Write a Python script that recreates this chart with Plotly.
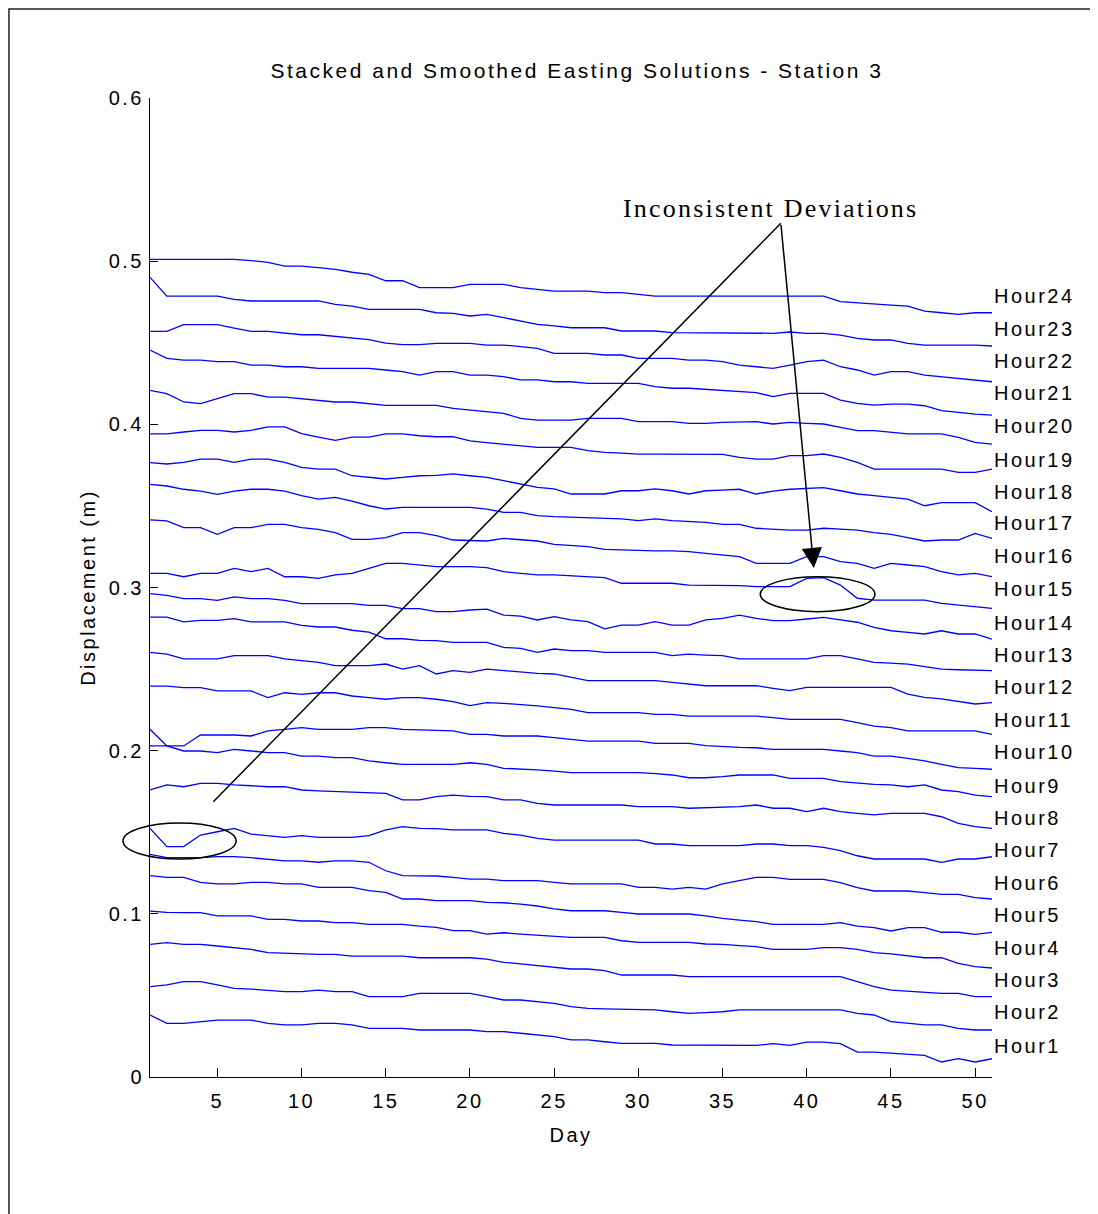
import plotly.graph_objects as go

DAYS = list(range(1, 52))

HOUR24 = [0.5011,0.5011,0.5011,0.5011,0.5011,0.5011,0.5003,0.4993,0.4970,0.4970,0.4960,0.4950,0.4932,0.4919,0.4880,0.4880,0.4838,
          0.4838,0.4838,0.4858,0.4858,0.4858,0.4838,0.4827,0.4817,0.4817,0.4817,0.4807,0.4807,0.4797,0.4786,0.4786,0.4786,0.4786,
          0.4786,0.4786,0.4786,0.4786,0.4786,0.4786,0.4786,0.4752,0.4744,0.4735,0.4731,0.4725,0.4694,0.4684,0.4674,0.4684,0.4684]
HOUR23 = [0.4901,0.4786,0.4786,0.4786,0.4786,0.4766,0.4756,0.4756,0.4756,0.4756,0.4756,0.4735,0.4725,0.4705,0.4705,0.4705,0.4705,
          0.4684,0.4680,0.4664,0.4674,0.4654,0.4633,0.4613,0.4603,0.4592,0.4592,0.4592,0.4572,0.4572,0.4572,0.4562,0.4562,0.4562,
          0.4558,0.4558,0.4558,0.4558,0.4566,0.4558,0.4558,0.4547,0.4527,0.4517,0.4517,0.4496,0.4486,0.4486,0.4486,0.4486,0.4480]
HOUR22 = [0.4570,0.4570,0.4611,0.4611,0.4611,0.4590,0.4570,0.4570,0.4560,0.4549,0.4549,0.4539,0.4529,0.4519,0.4498,0.4488,0.4488,
          0.4496,0.4496,0.4496,0.4486,0.4486,0.4476,0.4466,0.4435,0.4435,0.4435,0.4425,0.4425,0.4404,0.4404,0.4404,0.4394,0.4394,
          0.4384,0.4363,0.4353,0.4343,0.4363,0.4384,0.4394,0.4353,0.4333,0.4302,0.4323,0.4323,0.4302,0.4292,0.4282,0.4272,0.4261]
HOUR21 = [0.4455,0.4404,0.4394,0.4394,0.4384,0.4384,0.4363,0.4363,0.4353,0.4353,0.4343,0.4343,0.4343,0.4343,0.4333,0.4323,0.4302,
          0.4323,0.4323,0.4302,0.4302,0.4292,0.4272,0.4272,0.4261,0.4261,0.4251,0.4251,0.4251,0.4251,0.4231,0.4221,0.4221,0.4214,
          0.4210,0.4204,0.4194,0.4170,0.4190,0.4190,0.4190,0.4149,0.4129,0.4118,0.4124,0.4124,0.4114,0.4084,0.4073,0.4063,0.4057]
HOUR20 = [0.4208,0.4188,0.4137,0.4127,0.4157,0.4188,0.4188,0.4167,0.4167,0.4157,0.4147,0.4137,0.4137,0.4127,0.4116,0.4116,0.4116,
          0.4116,0.4098,0.4088,0.4078,0.4067,0.4037,0.4026,0.4026,0.4026,0.4037,0.4037,0.4037,0.4016,0.4016,0.4016,0.4006,0.4006,
          0.4012,0.4016,0.4016,0.4002,0.4012,0.4006,0.4002,0.3982,0.3961,0.3961,0.3951,0.3941,0.3941,0.3941,0.3920,0.3890,0.3879]
HOUR19 = [0.3941,0.3941,0.3953,0.3963,0.3963,0.3953,0.3963,0.3984,0.3984,0.3943,0.3922,0.3902,0.3922,0.3922,0.3941,0.3941,0.3930,
          0.3924,0.3924,0.3898,0.3888,0.3877,0.3869,0.3859,0.3859,0.3859,0.3839,0.3828,0.3824,0.3818,0.3818,0.3818,0.3818,0.3818,
          0.3816,0.3798,0.3787,0.3787,0.3808,0.3808,0.3818,0.3798,0.3767,0.3726,0.3726,0.3726,0.3726,0.3726,0.3706,0.3706,0.3726]
HOUR18 = [0.3765,0.3757,0.3767,0.3787,0.3787,0.3767,0.3787,0.3787,0.3767,0.3736,0.3726,0.3726,0.3685,0.3675,0.3665,0.3675,0.3685,
          0.3687,0.3696,0.3685,0.3675,0.3655,0.3634,0.3614,0.3604,0.3573,0.3573,0.3573,0.3593,0.3593,0.3604,0.3593,0.3573,0.3593,
          0.3597,0.3602,0.3573,0.3591,0.3602,0.3608,0.3612,0.3593,0.3573,0.3563,0.3552,0.3542,0.3501,0.3520,0.3520,0.3520,0.3465]
HOUR17 = [0.3632,0.3622,0.3602,0.3591,0.3571,0.3591,0.3602,0.3602,0.3591,0.3563,0.3542,0.3552,0.3530,0.3501,0.3481,0.3491,0.3491,
          0.3491,0.3491,0.3491,0.3481,0.3461,0.3461,0.3440,0.3434,0.3430,0.3424,0.3420,0.3420,0.3410,0.3420,0.3410,0.3403,0.3399,
          0.3387,0.3387,0.3363,0.3358,0.3352,0.3352,0.3363,0.3358,0.3352,0.3336,0.3326,0.3305,0.3285,0.3291,0.3291,0.3332,0.3301]
HOUR16 = [0.3414,0.3408,0.3367,0.3367,0.3326,0.3367,0.3367,0.3387,0.3387,0.3367,0.3356,0.3336,0.3295,0.3295,0.3305,0.3336,0.3336,
          0.3318,0.3291,0.3287,0.3285,0.3301,0.3295,0.3285,0.3264,0.3256,0.3250,0.3234,0.3230,0.3224,0.3224,0.3224,0.3220,0.3209,
          0.3199,0.3189,0.3148,0.3148,0.3148,0.3189,0.3189,0.3158,0.3148,0.3117,0.3148,0.3138,0.3128,0.3097,0.3077,0.3087,0.3066]
HOUR15 = [0.3087,0.3087,0.3066,0.3087,0.3087,0.3117,0.3097,0.3117,0.3066,0.3066,0.3056,0.3077,0.3087,0.3117,0.3148,0.3148,0.3138,
          0.3128,0.3128,0.3128,0.3122,0.3097,0.3087,0.3077,0.3077,0.3070,0.3066,0.3060,0.3026,0.3026,0.3026,0.3026,0.3015,0.3015,
          0.3015,0.3011,0.3005,0.3005,0.3005,0.3056,0.3060,0.3015,0.2934,0.2923,0.2923,0.2923,0.2923,0.2903,0.2893,0.2883,0.2872]
HOUR14 = [0.2962,0.2952,0.2932,0.2932,0.2921,0.2942,0.2932,0.2932,0.2921,0.2901,0.2901,0.2901,0.2901,0.2891,0.2891,0.2870,0.2870,
          0.2852,0.2852,0.2862,0.2868,0.2831,0.2825,0.2801,0.2821,0.2801,0.2791,0.2746,0.2770,0.2770,0.2791,0.2770,0.2770,0.2801,
          0.2811,0.2831,0.2811,0.2797,0.2797,0.2807,0.2817,0.2801,0.2787,0.2756,0.2735,0.2725,0.2715,0.2735,0.2715,0.2715,0.2684]
HOUR13 = [0.2819,0.2819,0.2789,0.2799,0.2799,0.2809,0.2789,0.2789,0.2789,0.2768,0.2758,0.2758,0.2738,0.2727,0.2686,0.2686,0.2676,
          0.2674,0.2664,0.2664,0.2664,0.2633,0.2627,0.2603,0.2623,0.2613,0.2613,0.2603,0.2603,0.2603,0.2603,0.2582,0.2592,0.2586,
          0.2582,0.2562,0.2562,0.2562,0.2562,0.2562,0.2582,0.2582,0.2562,0.2541,0.2537,0.2531,0.2515,0.2500,0.2496,0.2492,0.2490]
HOUR12 = [0.2603,0.2592,0.2562,0.2562,0.2562,0.2582,0.2582,0.2582,0.2562,0.2552,0.2541,0.2521,0.2521,0.2521,0.2531,0.2500,0.2521,
          0.2470,0.2490,0.2480,0.2500,0.2490,0.2480,0.2474,0.2470,0.2449,0.2429,0.2429,0.2429,0.2429,0.2429,0.2419,0.2409,0.2398,
          0.2398,0.2398,0.2398,0.2382,0.2368,0.2388,0.2388,0.2388,0.2388,0.2388,0.2388,0.2347,0.2327,0.2317,0.2300,0.2286,0.2294]
HOUR11 = [0.2396,0.2396,0.2386,0.2386,0.2366,0.2366,0.2366,0.2325,0.2355,0.2345,0.2355,0.2355,0.2335,0.2325,0.2315,0.2325,0.2325,
          0.2315,0.2300,0.2276,0.2294,0.2290,0.2284,0.2274,0.2264,0.2253,0.2233,0.2233,0.2233,0.2233,0.2223,0.2223,0.2212,0.2212,
          0.2212,0.2212,0.2212,0.2202,0.2192,0.2192,0.2192,0.2192,0.2172,0.2151,0.2141,0.2121,0.2121,0.2121,0.2121,0.2121,0.2100]
HOUR10 = [0.2029,0.2029,0.2029,0.2096,0.2096,0.2096,0.2090,0.2121,0.2131,0.2141,0.2131,0.2131,0.2131,0.2141,0.2141,0.2131,0.2127,
          0.2121,0.2121,0.2100,0.2100,0.2090,0.2090,0.2090,0.2080,0.2069,0.2059,0.2059,0.2059,0.2059,0.2045,0.2045,0.2045,0.2031,
          0.2024,0.2020,0.2018,0.2008,0.2008,0.2008,0.2008,0.1998,0.1988,0.1967,0.1967,0.1953,0.1937,0.1916,0.1896,0.1892,0.1886]
HOUR9 = [0.2131,0.2029,0.1998,0.1998,0.1988,0.2008,0.1998,0.1988,0.1988,0.1967,0.1967,0.1957,0.1957,0.1937,0.1926,0.1916,0.1916,
         0.1916,0.1916,0.1926,0.1916,0.1892,0.1888,0.1882,0.1875,0.1865,0.1865,0.1865,0.1865,0.1865,0.1859,0.1851,0.1834,0.1834,
         0.1841,0.1851,0.1851,0.1851,0.1830,0.1830,0.1830,0.1810,0.1800,0.1794,0.1790,0.1779,0.1790,0.1759,0.1749,0.1728,0.1718]
HOUR8 = [0.1759,0.1790,0.1779,0.1800,0.1800,0.1790,0.1785,0.1779,0.1779,0.1759,0.1753,0.1749,0.1749,0.1743,0.1738,0.1698,0.1698,
         0.1718,0.1728,0.1720,0.1718,0.1698,0.1698,0.1677,0.1667,0.1667,0.1667,0.1667,0.1667,0.1657,0.1657,0.1657,0.1647,0.1651,
         0.1653,0.1657,0.1667,0.1647,0.1647,0.1626,0.1647,0.1626,0.1616,0.1606,0.1616,0.1616,0.1616,0.1595,0.1555,0.1534,0.1524]
HOUR7 = [0.1524,0.1412,0.1412,0.1483,0.1503,0.1524,0.1489,0.1479,0.1469,0.1479,0.1469,0.1469,0.1469,0.1479,0.1514,0.1534,0.1524,
         0.1522,0.1514,0.1514,0.1514,0.1493,0.1483,0.1463,0.1452,0.1452,0.1452,0.1452,0.1452,0.1452,0.1428,0.1428,0.1418,0.1418,
         0.1418,0.1418,0.1428,0.1428,0.1418,0.1418,0.1407,0.1387,0.1356,0.1336,0.1336,0.1336,0.1336,0.1316,0.1336,0.1336,0.1350]
HOUR6 = [0.1365,0.1344,0.1344,0.1344,0.1350,0.1350,0.1344,0.1334,0.1324,0.1324,0.1316,0.1324,0.1324,0.1316,0.1264,0.1234,0.1234,
         0.1232,0.1224,0.1213,0.1213,0.1203,0.1203,0.1203,0.1193,0.1183,0.1183,0.1183,0.1183,0.1162,0.1162,0.1152,0.1162,0.1152,
         0.1183,0.1203,0.1224,0.1224,0.1211,0.1211,0.1211,0.1191,0.1160,0.1140,0.1140,0.1140,0.1130,0.1119,0.1119,0.1099,0.1091]
HOUR5 = [0.1234,0.1224,0.1224,0.1193,0.1183,0.1183,0.1193,0.1193,0.1183,0.1183,0.1162,0.1162,0.1162,0.1142,0.1132,0.1091,0.1091,
         0.1081,0.1081,0.1081,0.1070,0.1068,0.1060,0.1048,0.1030,0.1019,0.1019,0.1019,0.1009,0.0999,0.0999,0.0999,0.0999,0.0987,
         0.0972,0.0962,0.0952,0.0936,0.0936,0.0936,0.0936,0.0946,0.0925,0.0915,0.0895,0.0915,0.0915,0.0887,0.0887,0.0874,0.0887]
HOUR4 = [0.1017,0.1009,0.1007,0.1007,0.0987,0.0987,0.0987,0.0966,0.0966,0.0956,0.0956,0.0946,0.0946,0.0936,0.0936,0.0936,0.0925,
         0.0917,0.0897,0.0897,0.0876,0.0884,0.0876,0.0870,0.0866,0.0856,0.0856,0.0856,0.0835,0.0825,0.0825,0.0825,0.0825,0.0815,
         0.0813,0.0805,0.0799,0.0782,0.0782,0.0782,0.0793,0.0793,0.0782,0.0762,0.0754,0.0744,0.0731,0.0731,0.0697,0.0676,0.0668]
HOUR3 = [0.0813,0.0823,0.0813,0.0813,0.0803,0.0793,0.0782,0.0762,0.0758,0.0752,0.0752,0.0752,0.0741,0.0741,0.0741,0.0741,0.0731,
         0.0731,0.0731,0.0731,0.0723,0.0703,0.0693,0.0682,0.0672,0.0662,0.0662,0.0652,0.0625,0.0625,0.0625,0.0625,0.0615,0.0615,
         0.0615,0.0615,0.0615,0.0615,0.0615,0.0615,0.0615,0.0615,0.0584,0.0554,0.0533,0.0527,0.0523,0.0513,0.0513,0.0492,0.0492]
HOUR2 = [0.0554,0.0564,0.0584,0.0584,0.0564,0.0543,0.0539,0.0533,0.0523,0.0523,0.0533,0.0523,0.0523,0.0492,0.0492,0.0492,0.0513,
         0.0513,0.0513,0.0513,0.0492,0.0472,0.0472,0.0462,0.0451,0.0431,0.0421,0.0417,0.0415,0.0411,0.0411,0.0400,0.0390,0.0394,
         0.0400,0.0411,0.0411,0.0411,0.0411,0.0411,0.0411,0.0411,0.0390,0.0380,0.0339,0.0329,0.0319,0.0319,0.0298,0.0288,0.0288]
HOUR1 = [0.0380,0.0329,0.0329,0.0339,0.0349,0.0349,0.0349,0.0329,0.0319,0.0319,0.0329,0.0329,0.0319,0.0298,0.0298,0.0298,0.0288,
         0.0288,0.0288,0.0288,0.0278,0.0278,0.0268,0.0257,0.0247,0.0227,0.0227,0.0216,0.0206,0.0206,0.0206,0.0196,0.0196,0.0196,
         0.0194,0.0194,0.0194,0.0204,0.0194,0.0214,0.0214,0.0204,0.0153,0.0153,0.0145,0.0139,0.0133,0.0092,0.0112,0.0092,0.0112]

SERIES = [HOUR1, HOUR2, HOUR3, HOUR4, HOUR5, HOUR6, HOUR7, HOUR8, HOUR9, HOUR10, HOUR11, HOUR12,
          HOUR13, HOUR14, HOUR15, HOUR16, HOUR17, HOUR18, HOUR19, HOUR20, HOUR21, HOUR22, HOUR23, HOUR24]
SERIES_NAMES = ["Hour%d" % (i + 1) for i in range(24)]
LABEL_Y = [0.0190, 0.0398, 0.0594, 0.0791, 0.0993, 0.1189, 0.1391, 0.1587, 0.1783, 0.1992, 0.2188, 0.2390,
           0.2586, 0.2782, 0.2991, 0.3193, 0.3395, 0.3585, 0.3781, 0.3990, 0.4192, 0.4388, 0.4584, 0.4786]

X_TICKS = [5, 10, 15, 20, 25, 30, 35, 40, 45, 50]
Y_TICKS = [0, 0.1, 0.2, 0.3, 0.4, 0.5, 0.6]
Y_TICK_TEXT = ["0", "0.1", "0.2", "0.3", "0.4", "0.5", "0.6"]

TITLE = "Stacked and Smoothed Easting Solutions - Station 3"
X_TITLE = "Day"
Y_TITLE = "Displacement (m)"
NOTE = "Inconsistent Deviations"

SANS = "Liberation Sans, Arial, sans-serif"
SERIF = "Liberation Serif, Times New Roman, serif"

FIG_W, FIG_H = 1090, 1206
M_L, M_R, M_T, M_B = 142, 106, 90, 137
PLOT_W = FIG_W - M_L - M_R
PLOT_H = FIG_H - M_T - M_B


def spaced(s, px=2.5):
    return '<span style="letter-spacing:%spx">%s</span>' % (px, s)


fig = go.Figure()
for name, vals in zip(SERIES_NAMES, SERIES):
    assert len(vals) == len(DAYS)
    fig.add_trace(go.Scatter(x=DAYS, y=vals, mode="lines", name=name,
                             line=dict(color="#0000ff", width=1.3), showlegend=False,
                             hoverinfo="skip"))

axis_common = dict(showline=True, linecolor="black", linewidth=1, ticks="inside",
                   tickcolor="black", showgrid=False, zeroline=False, mirror=False,
                   tickfont=dict(family=SANS, size=20, color="black"))

fig.update_xaxes(range=[1, 51], tickvals=X_TICKS,
                 ticktext=[spaced(str(t)) for t in X_TICKS], ticklen=9,
                 ticklabelstandoff=6,
                 title=dict(text=spaced(X_TITLE), font=dict(family=SANS, size=20, color="black"),
                            standoff=16),
                 **axis_common)
fig.update_yaxes(range=[0, 0.6], tickvals=Y_TICKS,
                 ticktext=[spaced(t) for t in Y_TICK_TEXT], ticklen=8,
                 ticklabelstandoff=1,
                 title=dict(text=spaced(Y_TITLE), font=dict(family=SANS, size=20, color="black"),
                            standoff=7),
                 **axis_common)

annotations = []
for name, ly in zip(SERIES_NAMES, LABEL_Y):
    annotations.append(dict(x=51, y=ly, xref="x", yref="y", text=spaced(name), showarrow=False,
                            xanchor="left", yanchor="middle", xshift=0,
                            font=dict(family=SANS, size=20, color="black")))

annotations.append(dict(x=37.83, y=0.532, xref="x", yref="y", text=spaced(NOTE, 2.2),
                        showarrow=False, xanchor="center", yanchor="middle",
                        font=dict(family=SERIF, size=26, color="black")))
annotations.append(dict(x=40.42, y=0.3119, xref="x", yref="y", ax=38.46, ay=0.5232,
                        axref="x", ayref="y", text="", showarrow=True, arrowhead=2,
                        arrowsize=2.7, arrowwidth=1.5, arrowcolor="black"))

frame_x = (1 - M_L) / PLOT_W
frame_y = (PLOT_H + M_T - 1) / PLOT_H

shapes = [
    dict(type="line", xref="x", yref="y", x0=38.46, y0=0.5232, x1=4.76, y1=0.1687,
         line=dict(color="black", width=1.5)),
    dict(type="circle", xref="x", yref="y", x0=37.24, x1=44.05, y0=0.2852, y1=0.3066,
         line=dict(color="black", width=1.5)),
    dict(type="circle", xref="paper", yref="paper", x0=-0.0321, x1=0.1023, y0=0.2227, y1=0.2594,
         line=dict(color="black", width=1.5)),
    dict(type="path", xref="paper", yref="paper",
         path="M %.4f,-0.30 L %.4f,%.4f L 1.30,%.4f" % (frame_x, frame_x, frame_y, frame_y),
         line=dict(color="#222222", width=1.5)),
]

fig.update_layout(
    width=FIG_W, height=FIG_H,
    margin=dict(l=M_L, r=M_R, t=M_T, b=M_B),
    paper_bgcolor="white", plot_bgcolor="white",
    title=dict(text=spaced(TITLE, 2.5), x=(577 - 150) / PLOT_W, xref="paper", xanchor="center",
               y=1 - 63 / FIG_H, yref="container", yanchor="middle",
               font=dict(family=SANS, size=21, color="black")),
    annotations=annotations,
    shapes=shapes,
    showlegend=False,
)

fig.write_html("out.html")
